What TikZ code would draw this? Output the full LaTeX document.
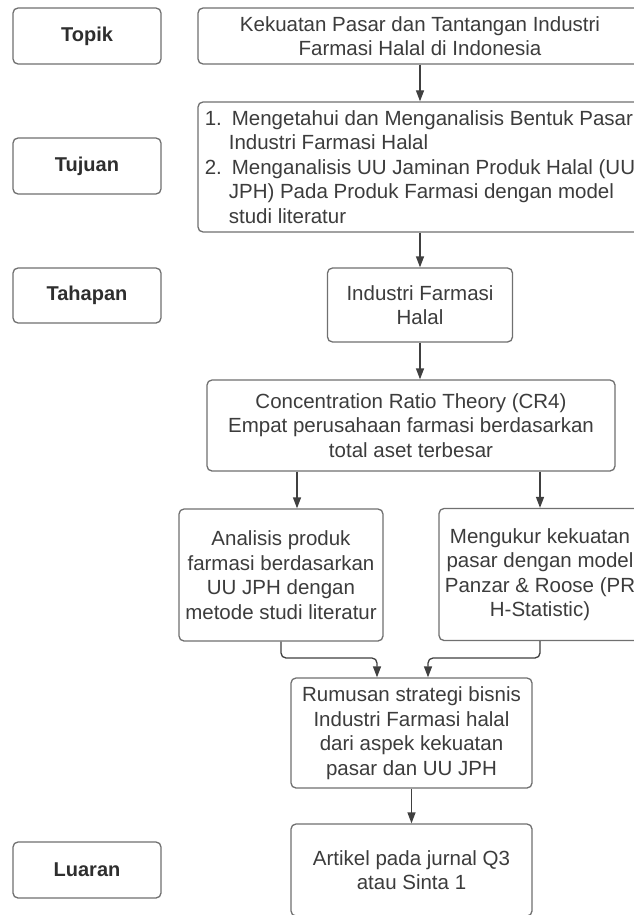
\documentclass[tikz,border=0pt]{standalone}
\usepackage{fontspec}
\setmainfont{Liberation Sans}
\usetikzlibrary{arrows.meta}
\definecolor{boxline}{HTML}{707070}
\definecolor{txt}{HTML}{3C3C3C}
\definecolor{arr}{HTML}{404040}
\definecolor{labtxt}{HTML}{2E2E2E}
\begin{document}
\begin{tikzpicture}[x=1pt,y=-1pt,
  box/.style={draw=boxline, line width=1.3pt, rounded corners=5pt, inner sep=0pt,
    align=center, text=txt, fill=white, font=\fontsize{20.5}{24.5}\selectfont},
  lab/.style={box, minimum width=148pt, minimum height=56pt, text=labtxt,
    font=\fontsize{20}{24}\selectfont\bfseries},
  arrowline/.style={draw=arr, line width=1.3pt, -{Triangle[width=8pt,length=11pt]}},
]
\useasboundingbox (0,0) rectangle (634,915);
\fill[white] (0,0) rectangle (634,915);

% left labels
\node[lab] (lTopik) at (87,36) {Topik};
\node[lab] (lTujuan) at (87,166) {Tujuan};
\node[lab, minimum height=55pt] (lTahapan) at (87,295.5) {Tahapan};
\node[lab] (lLuaran) at (87,870) {Luaran};

% main flow
\node[box, minimum width=444pt, minimum height=56pt] (topik) at (420,36)
  {Kekuatan Pasar dan Tantangan Industri\\Farmasi Halal di Indonesia};
\node[box, minimum width=444pt, minimum height=130pt, align=left] (tujuan) at (420,167)
  {\makebox[27pt][l]{1.}Mengetahui dan Menganalisis Bentuk Pasar\\
   \hspace*{24pt}Industri Farmasi Halal\\
   \makebox[27pt][l]{2.}Menganalisis UU Jaminan Produk Halal (UU\\
   \hspace*{24pt}JPH) Pada Produk Farmasi dengan model\\
   \hspace*{24pt}studi literatur};
\node[box, minimum width=185pt, minimum height=74pt] (industri) at (420,305)
  {Industri Farmasi\\Halal};
\node[box, minimum width=408pt, minimum height=91pt] (cr4) at (411,425.5)
  {Concentration Ratio Theory (CR4)\\Empat perusahaan farmasi berdasarkan\\total aset terbesar};
\node[box, minimum width=204pt, minimum height=132pt] (analisis) at (281,575)
  {Analisis produk\\farmasi berdasarkan\\UU JPH dengan\\metode studi literatur};
\node[box, minimum width=202pt, minimum height=132pt] (mengukur) at (540,574.5)
  {Mengukur kekuatan\\pasar dengan model\\Panzar \& Roose (PR\\H-Statistic)};
\node[box, minimum width=241pt, minimum height=110pt] (rumusan) at (411.5,733)
  {Rumusan strategi bisnis\\Industri Farmasi halal\\dari aspek kekuatan\\pasar dan UU JPH};
\node[box, minimum width=241pt, minimum height=92pt] (artikel) at (411.5,870)
  {Artikel pada jurnal Q3\\atau Sinta 1};

% helper coordinates
\coordinate (xa) at (297,0);
\coordinate (jl) at (377,658);
\coordinate (jr) at (428,658);

% connectors
\draw[arrowline] (topik) -- (tujuan);
\draw[arrowline] (tujuan) -- (industri);
\draw[arrowline] (industri.south) -- (industri.south |- cr4.north);
\draw[arrowline] (cr4.south -| xa) -- (analisis.north -| xa);
\draw[arrowline] (cr4.south -| mengukur.north) -- (mengukur.north);
\draw[arrowline, rounded corners=5pt] (analisis.south) |- (jl) -- (rumusan.north -| jl);
\draw[arrowline, rounded corners=5pt] (mengukur.south) |- (jr) -- (rumusan.north -| jr);
\draw[arrowline] (rumusan) -- (artikel);
\end{tikzpicture}
\end{document}
